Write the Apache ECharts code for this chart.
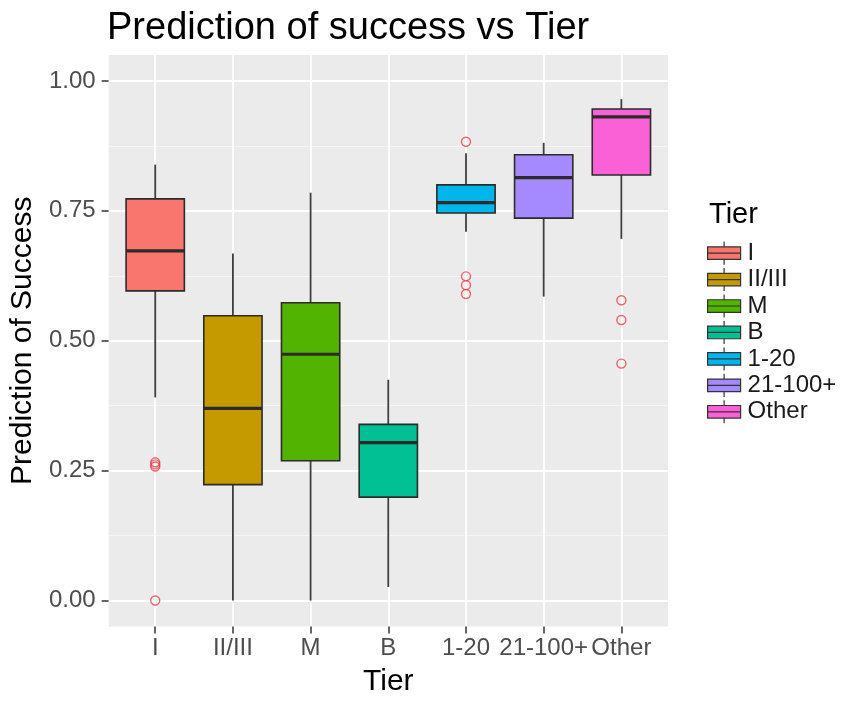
<!DOCTYPE html>
<html>
<head>
<meta charset="utf-8">
<script src="https://cdn.jsdelivr.net/npm/echarts@6/dist/echarts.min.js"></script>
<style>
html,body{margin:0;padding:0;background:#fff;}
#c{width:844px;height:702px;}
</style>
</head>
<body>
<div id="c"></div>
<script>
// ---- data ----
const categories   = ['I', 'II/III', 'M', 'B', '1-20', '21-100+', 'Other'];
const whiskerLow   = [0.391, 0.000, 0.000, 0.026, 0.710, 0.585, 0.696];
const quartile1    = [0.596, 0.223, 0.269, 0.199, 0.746, 0.736, 0.819];
const medians      = [0.673, 0.370, 0.474, 0.304, 0.766, 0.814, 0.931];
const quartile3    = [0.773, 0.548, 0.573, 0.339, 0.800, 0.858, 0.946];
const whiskerHigh  = [0.839, 0.668, 0.785, 0.425, 0.861, 0.881, 0.965];
const outliersI     = [0.258, 0.262, 0.266, 0.000];
const outliers1to20 = [0.883, 0.624, 0.607, 0.590];
const outliersOther = [0.578, 0.540, 0.456];
const outliersByTier = [outliersI, [], [], [], outliers1to20, [], outliersOther];
const yTickValues  = [0, 0.25, 0.5, 0.75, 1];
const yMinorValues = [0.125, 0.375, 0.625, 0.875];
const xTickValues  = [0, 1, 2, 3, 4, 5, 6];

// ---- styles ----
const tierColors = ['#F8766D', '#C49A00', '#53B400', '#00C094', '#00B6EB', '#A58AFF', '#FB61D7'];
const FONT = '"Liberation Sans", Arial, Helvetica, sans-serif';
const keyIcon = 'path://M16.5,1 L16.5,6 M0.75,6 L32.25,6 L32.25,18 L0.75,18 Z M0.75,12 L32.25,12 M16.5,18 L16.5,23';

const boxData = categories.map((c, i) => [i, whiskerLow[i], quartile1[i], medians[i], quartile3[i], whiskerHigh[i]]);

function renderBox(params, api) {
  const x = api.value(0);
  const pLow = api.coord([x, api.value(1)]);
  const pQ1 = api.coord([x, api.value(2)]);
  const pMed = api.coord([x, api.value(3)]);
  const pQ3 = api.coord([x, api.value(4)]);
  const pHigh = api.coord([x, api.value(5)]);
  const halfW = api.size([0.75, 0])[0] / 2;
  const cx = pMed[0];
  const color = tierColors[params.dataIndex];
  return {
    type: 'group',
    children: [
      { type: 'line', shape: { x1: cx, y1: pLow[1], x2: cx, y2: pQ1[1] }, style: { stroke: '#3d3d3d', lineWidth: 1.8 } },
      { type: 'line', shape: { x1: cx, y1: pQ3[1], x2: cx, y2: pHigh[1] }, style: { stroke: '#3d3d3d', lineWidth: 1.8 } },
      { type: 'rect', shape: { x: cx - halfW, y: pQ3[1], width: 2 * halfW, height: pQ1[1] - pQ3[1] },
        style: { fill: color, stroke: '#2b2b2b', lineWidth: 1.6 } },
      { type: 'line', shape: { x1: cx - halfW, y1: pMed[1], x2: cx + halfW, y2: pMed[1] },
        style: { stroke: '#2b2b2b', lineWidth: 3.2 } }
    ]
  };
}

const chart = echarts.init(document.getElementById('c'), null, { renderer: 'canvas' });

const option = {
  backgroundColor: '#ffffff',
  animation: false,
  title: [
    { text: 'Prediction of success vs Tier', left: 107, top: 10, padding: 0,
      textStyle: { fontSize: 38, fontWeight: 'normal', color: '#000', fontFamily: FONT, lineHeight: 38 } },
    { text: 'Tier', left: 709, top: 200.5, padding: 0,
      textStyle: { fontSize: 29, fontWeight: 'normal', color: '#000', fontFamily: FONT, lineHeight: 29 } }
  ],
  legend: {
    orient: 'vertical', left: 707, top: 241, padding: 0,
    itemWidth: 33, itemHeight: 24, itemGap: 2.2,
    icon: keyIcon, selectedMode: false,
    data: categories.map((c, i) => ({
      name: c,
      itemStyle: { color: tierColors[i], borderColor: '#333333', borderWidth: 1.2, opacity: 1 }
    })),
    textStyle: { fontSize: 24, color: '#1a1a1a', fontFamily: FONT, lineHeight: 24, padding: [0, 0, 0, 2] }
  },
  grid: { left: 108, top: 55, width: 560, height: 580, show: true, backgroundColor: '#EBEBEB', borderWidth: 0 },
  xAxis: {
    type: 'value', min: -0.6, max: 6.6,
    name: 'Tier', nameLocation: 'middle', nameGap: 40.5,
    nameTextStyle: { fontSize: 30, color: '#000', fontFamily: FONT, lineHeight: 30 },
    axisLine: { show: false, onZero: false },
    axisTick: { show: true, length: 7, customValues: xTickValues, lineStyle: { color: '#333', width: 1.5 } },
    axisLabel: { show: true, customValues: xTickValues, margin: 10, fontSize: 24, color: '#4D4D4D',
      fontFamily: FONT, lineHeight: 24, hideOverlap: false,
      formatter: (v) => categories[Math.round(v)] },
    splitLine: { show: true, lineStyle: { color: '#ffffff', width: 1.8 } }
  },
  yAxis: [
    {
      type: 'value', min: -0.05, max: 1.05, position: 'left',
      name: 'Prediction of Success', nameLocation: 'middle', nameGap: 69,
      nameTextStyle: { fontSize: 30, color: '#000', fontFamily: FONT, lineHeight: 30 },
      axisLine: { show: false, onZero: false },
      axisTick: { show: true, length: 7, customValues: yTickValues, lineStyle: { color: '#333', width: 1.5 } },
      axisLabel: { show: true, customValues: yTickValues, margin: 13, fontSize: 24, color: '#4D4D4D',
        fontFamily: FONT, formatter: (v) => v.toFixed(2) },
      splitLine: { show: true, lineStyle: { color: '#ffffff', width: 1.8 } }
    },
    {
      type: 'value', min: -0.05, max: 1.05, position: 'right',
      axisLine: { show: false, onZero: false },
      axisTick: { show: false, customValues: yMinorValues },
      axisLabel: { show: false },
      splitLine: { show: true, lineStyle: { color: '#F7F7F7', width: 0.9 } }
    }
  ],
  series: [
    {
      type: 'custom', name: 'boxes', xAxisIndex: 0, yAxisIndex: 0,
      encode: { x: 0, y: [1, 2, 3, 4, 5] },
      data: boxData, renderItem: renderBox, silent: true, z: 2
    }
  ].concat(categories.map((c, i) => ({
    type: 'scatter', name: c, xAxisIndex: 0, yAxisIndex: 0,
    data: outliersByTier[i].map(v => [i, v]),
    symbol: 'circle', symbolSize: 9, silent: true, z: 3,
    itemStyle: { color: 'rgba(0,0,0,0)', borderColor: '#E8414A', borderWidth: 1.4 }
  })))
};

chart.setOption(option);
</script>
</body>
</html>
